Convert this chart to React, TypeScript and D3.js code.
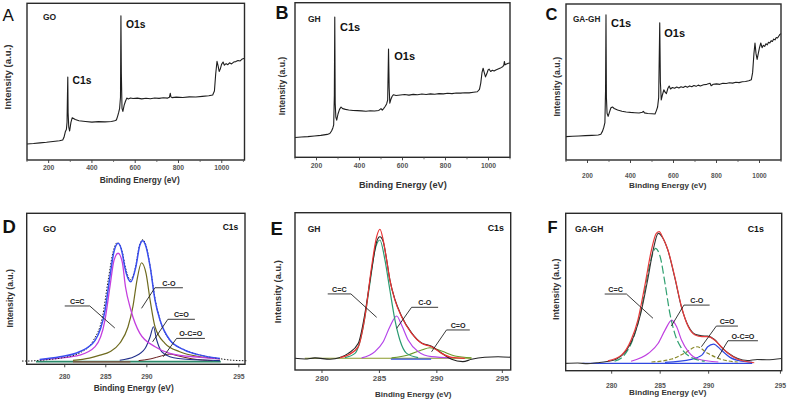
import React from 'react';
import * as d3 from 'd3';

type Pt = [number, number];

// ---------- tick labels ----------
const surveyTicks = [200, 400, 600, 800, 1000];
const surveyMinor = [100, 300, 500, 700, 900, 1100];
const surveyTickLabels = ['200', '400', '600', '800', '1000'];
const c1sTickLabels = ['280', '285', '290', '295'];
const goC1sTickAt = [280, 285, 290, 301.2];
const ghC1sTickAt = [280, 285, 290, 295.7];
const gaghC1sTickAt = [280, 285, 290, 297.4];

// ---------- survey spectra (binding energy eV, intensity a.u.) ----------
const goSurvey: Pt[] = [
  [100, 10.2], [130, 10.5], [160, 10.9], [190, 11.3], [220, 11.8], [250, 12.3], [265, 12.8], [271, 14.5],
  [277, 18], [282, 19.5], [285, 24], [287, 42], [288.5, 53], [290, 30], [293, 21], [297, 18.5], [303, 24],
  [309, 27], [315, 26.5], [323, 25.8], [340, 25], [370, 24.6], [400, 24.2], [430, 24.5], [460, 24.3],
  [490, 24.6], [505, 25], [513, 25.5], [519, 28], [524, 30.5], [528, 33], [532, 40], [534, 92], [536, 55],
  [539, 33], [543, 31], [549, 35], [555, 37.5], [561, 39.5], [568, 39], [578, 39.6], [590, 39.2], [610, 39.5],
  [630, 39], [650, 39.4], [670, 39.1], [690, 39.6], [710, 39.3], [730, 39.7], [750, 39.5], [758, 40],
  [762, 42.5], [765, 40.3], [770, 39.8], [790, 40.1], [820, 39.9], [850, 40.3], [880, 40.2], [910, 40.6],
  [940, 41], [958, 41.5], [966, 44], [972, 55], [978, 63], [983, 60], [988, 56.5], [993, 58], [999, 61],
  [1006, 62.5], [1012, 60.5], [1020, 61.5], [1028, 60.8], [1036, 62], [1045, 61.3], [1055, 62.5],
  [1065, 62.8], [1075, 63.5], [1085, 63.2], [1095, 64.5], [1105, 65],
];

const ghSurvey: Pt[] = [
  [100, 12.8], [130, 13.1], [160, 13.4], [190, 13.8], [220, 14.2], [250, 14.8], [262, 15.4], [270, 17],
  [276, 19], [280, 21], [283, 40], [285, 90.7], [287, 35], [290, 26], [294, 24], [300, 28], [307, 31],
  [314, 32.5], [322, 31.5], [335, 31], [350, 30.6], [370, 30.3], [390, 30.2], [410, 30], [430, 29.8],
  [450, 30.1], [470, 29.9], [490, 30.3], [500, 31.5], [506, 30.5], [512, 31.5], [520, 33], [526, 34.5],
  [531, 37], [535, 70], [538, 45], [541, 35], [546, 37.5], [552, 39.5], [558, 40.5], [570, 40], [590, 40.3],
  [610, 40.6], [630, 40.2], [650, 40.7], [670, 40.5], [690, 40.9], [710, 40.6], [730, 41], [750, 40.8],
  [770, 41.2], [790, 41], [810, 41.4], [830, 41.2], [850, 41.6], [870, 41.5], [890, 41.8], [910, 41.7],
  [930, 42.1], [948, 42.4], [958, 44], [964, 48], [970, 55], [975, 57.6], [980, 55], [986, 52], [992, 54],
  [998, 56.5], [1003, 57], [1010, 55.5], [1018, 56.3], [1026, 55.8], [1034, 56.5], [1042, 57], [1050, 57.5],
  [1058, 58], [1066, 58.6], [1071, 59.5], [1074, 62], [1077, 59.8], [1084, 60.3], [1092, 60.8], [1100, 61],
];

const gaghSurvey: Pt[] = [
  [100, 15], [130, 15.2], [160, 15.4], [190, 15.6], [220, 15.8], [250, 16], [262, 16.5], [270, 18.5],
  [276, 21], [281, 24], [284, 45], [286, 93], [288, 40], [291, 30], [296, 28], [303, 31], [309, 33.5],
  [316, 34], [324, 33], [340, 32], [360, 31.2], [380, 30.8], [400, 30.5], [420, 30.3], [440, 30.1],
  [455, 30.6], [460, 31.2], [465, 30.2], [480, 29.8], [500, 29.6], [514, 29.5], [520, 31.5], [526, 34],
  [531, 40], [536, 88], [539, 50], [543, 38.5], [549, 42], [555, 45], [561, 43.5], [567, 42.5], [574, 46],
  [580, 47.4], [586, 45.5], [595, 46.5], [605, 46], [615, 46.8], [625, 46.2], [635, 47], [645, 46.5],
  [655, 47.3], [665, 46.6], [675, 47.5], [685, 47], [695, 47.8], [705, 47.2], [715, 48], [725, 47.5],
  [740, 48.2], [755, 48.5], [770, 49.2], [775, 47.6], [785, 48.6], [800, 48.8], [815, 48.5], [830, 49.2],
  [845, 49], [860, 49.5], [875, 49.3], [890, 49.8], [905, 49.6], [920, 50.2], [935, 50.3], [950, 50.8],
  [962, 51.5], [968, 56], [974, 68], [979, 75], [984, 68], [989, 64.5], [994, 68], [1000, 72], [1006, 75],
  [1012, 72], [1018, 73.5], [1024, 72.8], [1030, 74.5], [1036, 73.8], [1042, 75.5], [1048, 75],
  [1054, 76.5], [1060, 76], [1066, 77.5], [1072, 77], [1078, 78.5], [1084, 78.2], [1090, 79.5],
  [1095, 80.5], [1100, 81],
];

// ---------- C1s GO ----------
const goData: Pt[] = [
  [274.8, 0], [275.7, 0], [276.5, 0.3], [278, 1], [280, 2.5], [282, 6], [283.5, 14], [284.6, 30], [285.3, 55],
  [285.9, 74], [286.4, 80], [287, 74], [287.4, 63], [288, 55], [288.6, 63], [289.1, 78], [289.5, 82],
  [289.9, 78], [290.4, 64], [291, 42], [291.6, 28], [292.8, 14], [294.6, 7.5], [296.5, 4], [299, 1.5],
  [300.5, 0.5], [302.2, 0.2],
];
const goEnvelope: Pt[] = [
  [276.95, 1.1], [279.4, 2.9], [281.8, 6.3], [283.7, 14], [284.9, 34], [285.5, 57], [286.0, 74],
  [286.5, 79.5], [287.0, 73], [287.3, 63.7], [288.05, 53.6], [288.66, 63.7], [289.15, 78.4], [289.5, 81.3],
  [289.9, 77.2], [290.4, 63.7], [291.0, 41], [291.6, 27.7], [292.8, 14.2], [294.6, 7.4], [296.5, 4],
  [298.9, 1.8],
];
const goCC: Pt[] = [
  [276.95, 0.8], [279.4, 2], [281.8, 4], [283.7, 9.7], [284.9, 27.7], [285.5, 50], [286.0, 68], [286.5, 72.8],
  [287.0, 67], [287.4, 50], [288.05, 34.5], [289.15, 18.7], [291, 9.7], [292.8, 5.2], [296.5, 2.5], [298.9, 1.5],
];
const goCO: Pt[] = [
  [281, 0.5], [283, 2], [284.3, 4], [285.5, 6.3], [286.7, 12], [287.7, 23], [288.3, 36.7], [288.8, 54.7],
  [289.35, 66.4], [289.9, 59.2], [290.4, 41], [291.0, 23], [292.2, 12], [294, 6.3], [296.5, 2.9], [298.9, 1.5],
];
const goCdO: Pt[] = [
  [286.7, 0.5], [288.5, 3], [289.8, 8.6], [290.4, 16.4], [290.8, 23.2], [291.2, 14.2], [291.8, 6.3],
  [292.8, 2.9], [295.2, 1], [298.9, 0.3],
];
const goOCO: Pt[] = [
  [289, 0.3], [290.5, 1.5], [291.8, 3.5], [292.8, 4.7], [293.8, 3.5], [295.5, 1.5], [298, 0.3],
];
const goBase: Pt[] = [[276.5, -0.4], [299, -0.4]];
const goBase2: Pt[] = [[281, -0.6], [288, -0.6]];

// ---------- C1s GH ----------
const ghData: Pt[] = [
  [277.65, 0], [278.52, -0.5], [279.39, 0.3], [280.7, -0.7], [281.57, 0.5], [282.29, 3.4], [283.16, 10.3],
  [283.74, 31], [284.32, 60.8], [284.76, 80.3], [285.04, 83.7], [285.33, 80.3], [285.63, 67.7], [285.91, 54],
  [286.35, 40.5], [286.93, 29], [287.8, 17.5], [288.67, 10.5], [289.54, 8.3], [290.41, 3.6], [291.28, -0.7],
  [292.26, -2.3], [293.02, -0.7], [294.17, 0.7], [295.33, 1.1], [296.43, 0.7],
];
const ghEnvelope: Pt[] = [
  [281.57, 0.5], [282.29, 2.3], [283.16, 8], [283.74, 28.6], [284.32, 63], [284.76, 83.7], [285.04, 88.8],
  [285.33, 81.4], [285.63, 67.7], [285.91, 53.9], [286.35, 40], [286.93, 28.6], [287.8, 17.2], [288.67, 10.3],
  [289.54, 8], [290.41, 3.4], [291.28, 0.7], [292.43, 0],
];
const ghCC: Pt[] = [
  [282, 0.5], [282.87, 3.4], [283.59, 21.7], [284.17, 51.6], [284.61, 74.5], [285.04, 81.4], [285.48, 67.7],
  [285.91, 47], [286.35, 26.4], [286.78, 12.6], [287.37, 3.4], [288.37, 0.5],
];
const ghCO: Pt[] = [
  [283.45, 0.3], [284.61, 4.6], [285.33, 11.4], [285.91, 21.7], [286.5, 29.1], [286.93, 22.9], [287.5, 12.6],
  [288.37, 4.6], [289.54, 1.1], [291.28, 0.3],
];
const ghCdO: Pt[] = [
  [286.06, 0.3], [287.5, 2.3], [288.67, 5.7], [289.39, 7.3], [290.41, 5], [291.57, 1.6], [293.02, 0.3],
];
const ghBase: Pt[] = [[278.5, 0], [293, 0]];
const ghBase2: Pt[] = [[286, -0.6], [289.5, -0.6]];

// ---------- C1s GA-GH ----------
const gaghData: Pt[] = [
  [275.26, -0.4], [276.5, -0.2], [277.5, -0.6], [278.5, 0], [279.5, 0.8], [280.5, 2.5], [281.5, 8],
  [282.3, 18], [283, 33], [283.7, 55], [284.3, 76], [284.8, 86.4], [285.3, 83], [285.8, 75], [286.5, 57],
  [287.2, 37], [287.9, 24.5], [288.6, 19], [289.3, 18], [289.9, 17.8], [290.6, 15.5], [291.3, 10.5],
  [292, 6.5], [293, 2.8], [294, 1.5], [295, 2.2], [296, 2], [297.53, 2.9],
];
const gaghEnvelope: Pt[] = [
  [279.6, 1.3], [281, 5.1], [282, 15.2], [282.7, 28.5], [283.4, 50.8], [284.1, 75.3], [284.6, 86.4],
  [284.9, 87.5], [285.3, 83.1], [285.8, 75.3], [286.5, 57.5], [287.2, 37.4], [287.9, 24], [288.6, 18.5],
  [289.3, 17.4], [289.9, 17.4], [290.6, 15.2], [291.3, 10.7], [292, 6.3], [293, 2.3], [294.7, 0],
];
const gaghCC: Pt[] = [
  [280.3, 1], [281.3, 5.1], [282.4, 19.6], [283.1, 37.4], [283.8, 61.9], [284.3, 74.1], [284.5, 76.4],
  [285, 70.8], [285.5, 53], [286, 33], [286.5, 19.6], [287.2, 9.6], [288.2, 3.6], [289.6, 1],
];
const gaghCO: Pt[] = [
  [282, 1], [283.8, 6.3], [284.8, 13], [285.5, 21.8], [286.2, 28.5], [286.7, 24], [287.2, 15.2],
  [287.9, 7.4], [288.9, 2.5], [291, 0.5],
];
const gaghCdO: Pt[] = [
  [284.1, 0.5], [286.2, 2.5], [287.5, 6.3], [288.8, 10.7], [289.9, 6.3], [291.3, 2.3], [293, 0.5],
];
const gaghOCO: Pt[] = [
  [285.5, 0.3], [288.2, 2.3], [289.3, 5.1], [289.9, 10.7], [290.5, 12.5], [291.3, 8.5], [292.2, 3.6],
  [293.4, 1], [294.5, 0.3],
];
const gaghBase: Pt[] = [[277, -0.4], [294.5, -0.4]];

// ---------- annotation labels (data coords) ----------
type Annot = { label: string; x1: number; x2: number; y: number; px: number; py: number; right: boolean };
const goAnnots: Annot[] = [
  { label: 'C=C', x1: 280.0, x2: 283.05, y: 37.2, px: 286.1, py: 22.3, right: true },
  { label: 'C-O', x1: 290.98, x2: 294.39, y: 49.5, px: 289.35, py: 35.6, right: false },
  { label: 'C=O', x1: 292.56, x2: 295.85, y: 28.2, px: 290.7, py: 13, right: false },
  { label: 'O-C=O', x1: 293.62, x2: 297.07, y: 15.3, px: 292, py: 2.9, right: false },
];
const ghAnnots: Annot[] = [
  { label: 'C=C', x1: 280.5, x2: 282.52, y: 44.3, px: 284.76, py: 28.2, right: true },
  { label: 'C-O', x1: 287.8, x2: 290.11, y: 35.1, px: 286.5, py: 20.6, right: false },
  { label: 'C=O', x1: 290.84, x2: 292.87, y: 19.5, px: 289.54, py: 4.5, right: false },
];
const gaghAnnots: Annot[] = [
  { label: 'C=C', x1: 279.28, x2: 281.52, y: 45.9, px: 284.26, py: 29.7, right: true },
  { label: 'C-O', x1: 287.45, x2: 290.1, y: 38.5, px: 286.15, py: 24.5, right: false },
  { label: 'C=O', x1: 290.79, x2: 293.02, y: 24.5, px: 289.25, py: 10.7, right: false },
  { label: 'O-C=O', x1: 291.99, x2: 295.08, y: 14.7, px: 290.9, py: 2.9, right: false },
];

type CurveSpec = { data: Pt[]; color: string; width: number; dash?: string; smooth: boolean };
type TextSpec = { text: string; x: number; y: number; size: number };
type PanelSpec = {
  letter: TextSpec & { weight: number };
  box: [number, number, number, number];
  xDomain: [number, number];
  yDomain: [number, number];
  ticks: number[];
  minor: number[];
  tickLabels: string[];
  tickLabelY: number;
  tickSize: number;
  sample: TextSpec;
  peaks: TextSpec[];
  ylabel: TextSpec;
  xlabel: TextSpec;
  curves: CurveSpec[];
  annots: Annot[];
  annotSize: number;
};

const FONT = '"Liberation Sans", Arial, sans-serif';

function Panel({ p }: { p: PanelSpec }) {
  const [l, t, r, b] = p.box;
  const x = d3.scaleLinear().domain(p.xDomain).range([l, r]);
  const y = d3.scaleLinear().domain(p.yDomain).range([b, t]);
  const mk = (smooth: boolean) =>
    d3.line<Pt>().x((d) => x(d[0])).y((d) => y(d[1])).curve(smooth ? d3.curveMonotoneX : d3.curveLinear);
  return (
    <g>
      {p.curves.map((c, i) => (
        <path key={i} d={mk(c.smooth)(c.data) || ''} fill="none" stroke={c.color} strokeWidth={c.width}
          strokeDasharray={c.dash} strokeLinejoin="round" />
      ))}
      <rect x={l} y={t} width={r - l} height={b - t} fill="none" stroke="#2a2a2a" strokeWidth={1.4} />
      {p.ticks.map((v, i) => (
        <g key={'t' + i}>
          {x(v) < r - 1 && <line x1={x(v)} x2={x(v)} y1={b} y2={b + 3} stroke="#333" strokeWidth={0.9} />}
          <text x={x(v)} y={p.tickLabelY} fontSize={p.tickSize} fontWeight="bold" fill="#555"
            textAnchor="middle" fontFamily={FONT}>{p.tickLabels[i]}</text>
        </g>
      ))}
      {p.minor.map((v, i) => (
        <line key={'m' + i} x1={x(v)} x2={x(v)} y1={b} y2={b + 2} stroke="#555" strokeWidth={0.8} />
      ))}
      {p.annots.map((a, i) => {
        const ax = a.right ? x(a.x2) : x(a.x1);
        return (
          <g key={'a' + i}>
            <line x1={x(a.x1)} x2={x(a.x2)} y1={y(a.y)} y2={y(a.y)} stroke="#222" strokeWidth={0.9} />
            <line x1={ax} x2={x(a.px)} y1={y(a.y)} y2={y(a.py)} stroke="#222" strokeWidth={0.9} />
            <text x={(x(a.x1) + x(a.x2)) / 2} y={y(a.y) - 2} fontSize={p.annotSize} fontWeight="bold"
              textAnchor="middle" fill="#222" fontFamily={FONT}>{a.label}</text>
          </g>
        );
      })}
      <text x={p.letter.x} y={p.letter.y} fontSize={p.letter.size} fontWeight={p.letter.weight}
        fill="#111" fontFamily={FONT}>{p.letter.text}</text>
      <text x={p.sample.x} y={p.sample.y} fontSize={p.sample.size} fontWeight="bold" fill="#222"
        fontFamily={FONT}>{p.sample.text}</text>
      {p.peaks.map((s, i) => (
        <text key={'p' + i} x={s.x} y={s.y} fontSize={s.size} fontWeight="bold" fill="#111"
          fontFamily={FONT}>{s.text}</text>
      ))}
      <text transform={`translate(${p.ylabel.x},${p.ylabel.y}) rotate(-90)`} fontSize={p.ylabel.size}
        fontWeight="bold" textAnchor="middle" fill="#333" fontFamily={FONT}>{p.ylabel.text}</text>
      <text x={p.xlabel.x} y={p.xlabel.y} fontSize={p.xlabel.size} fontWeight="bold" textAnchor="middle"
        fill="#333" fontFamily={FONT}>{p.xlabel.text}</text>
    </g>
  );
}

const YL = 'Intensity (a.u.)';
const XL = 'Binding Energy (eV)';
const surveyCurve = (d: Pt[]): CurveSpec[] => [{ data: d, color: '#1e1e1e', width: 1.1, smooth: false }];

const panels: PanelSpec[] = [
  {
    letter: { text: 'A', x: 2.5, y: 21, size: 17, weight: 400 },
    box: [27, 3.3, 244.5, 160], xDomain: [100, 1105], yDomain: [0, 100],
    ticks: surveyTicks, minor: surveyMinor, tickLabels: surveyTickLabels, tickLabelY: 169.5, tickSize: 6.8,
    sample: { text: 'GO', x: 43, y: 19.8, size: 8.5 },
    peaks: [{ text: 'C1s', x: 72.5, y: 83.5, size: 10.3 }, { text: 'O1s', x: 126, y: 28.3, size: 10.3 }],
    ylabel: { text: YL, x: 11, y: 77, size: 9.6 }, xlabel: { text: XL, x: 139.7, y: 183, size: 8.4 },
    curves: surveyCurve(goSurvey), annots: [], annotSize: 7,
  },
  {
    letter: { text: 'B', x: 275.5, y: 18.5, size: 18, weight: 700 },
    box: [295, 2.7, 510, 157.3], xDomain: [100, 1100], yDomain: [0, 100],
    ticks: surveyTicks, minor: surveyMinor, tickLabels: surveyTickLabels, tickLabelY: 167.5, tickSize: 6.8,
    sample: { text: 'GH', x: 308, y: 21.5, size: 8.5 },
    peaks: [{ text: 'C1s', x: 340, y: 30.7, size: 11 }, { text: 'O1s', x: 394.3, y: 60, size: 11 }],
    ylabel: { text: YL, x: 285, y: 86, size: 8.6 }, xlabel: { text: XL, x: 402.8, y: 188.3, size: 9.2 },
    curves: surveyCurve(ghSurvey), annots: [], annotSize: 7,
  },
  {
    letter: { text: 'C', x: 545.5, y: 20, size: 16.5, weight: 700 },
    box: [566, 4, 781, 160], xDomain: [100, 1100], yDomain: [0, 100],
    ticks: surveyTicks, minor: surveyMinor, tickLabels: surveyTickLabels, tickLabelY: 177.5, tickSize: 6.5,
    sample: { text: 'GA-GH', x: 573, y: 21.5, size: 8.2 },
    peaks: [{ text: 'C1s', x: 611, y: 27.3, size: 11 }, { text: 'O1s', x: 664.3, y: 37.3, size: 11 }],
    ylabel: { text: YL, x: 559.5, y: 86.7, size: 8.8 }, xlabel: { text: XL, x: 667.8, y: 187.5, size: 8.1 },
    curves: surveyCurve(gaghSurvey), annots: [], annotSize: 7,
  },
  {
    letter: { text: 'D', x: 2.5, y: 233.3, size: 18.5, weight: 700 },
    box: [26.7, 213.3, 245, 364.3], xDomain: [275.37, 301.95], yDomain: [-2.2, 99.8],
    ticks: goC1sTickAt, minor: [], tickLabels: c1sTickLabels, tickLabelY: 378.5, tickSize: 6.8,
    sample: { text: 'GO', x: 43, y: 231.5, size: 8.5 },
    peaks: [{ text: 'C1s', x: 222.7, y: 230, size: 8.5 }],
    ylabel: { text: YL, x: 12.5, y: 298.3, size: 8.6 }, xlabel: { text: XL, x: 133.7, y: 391, size: 8.4 },
    curves: [
      { data: goBase, color: '#2a8a6a', width: 1.6, smooth: false },
      { data: goBase2, color: '#a03a2a', width: 1, smooth: false },
      { data: goOCO, color: '#6a1e1e', width: 1, smooth: true },
      { data: goCdO, color: '#22308c', width: 1.1, smooth: true },
      { data: goCO, color: '#6e6a1e', width: 1.2, smooth: true },
      { data: goCC, color: '#c43ede', width: 1.3, smooth: true },
      { data: goData, color: '#222', width: 1, dash: '1.5,1.5', smooth: true },
      { data: goEnvelope, color: '#3a4ef0', width: 1.5, smooth: true },
    ],
    annots: goAnnots, annotSize: 7.2,
  },
  {
    letter: { text: 'E', x: 270.5, y: 235, size: 18.5, weight: 700 },
    box: [295, 212.7, 510.7, 370], xDomain: [277.65, 296.43], yDomain: [-8.05, 100.2],
    ticks: ghC1sTickAt, minor: [], tickLabels: c1sTickLabels, tickLabelY: 380.5, tickSize: 8,
    sample: { text: 'GH', x: 307.7, y: 231.7, size: 8.5 },
    peaks: [{ text: 'C1s', x: 487.7, y: 230.7, size: 8.8 }],
    ylabel: { text: YL, x: 280.5, y: 291.7, size: 9.3 }, xlabel: { text: XL, x: 413.3, y: 396.5, size: 8 },
    curves: [
      { data: ghBase, color: '#8a9a2a', width: 1.1, smooth: false },
      { data: ghBase2, color: '#3050e0', width: 1.2, smooth: false },
      { data: ghCdO, color: '#6a9a28', width: 1.1, smooth: true },
      { data: ghCO, color: '#b444ea', width: 1.2, smooth: true },
      { data: ghCC, color: '#2a9a72', width: 1.2, smooth: true },
      { data: ghData, color: '#222', width: 1.1, smooth: true },
      { data: ghEnvelope, color: '#e83232', width: 1.2, smooth: true },
    ],
    annots: ghAnnots, annotSize: 7.2,
  },
  {
    letter: { text: 'F', x: 547.5, y: 233.3, size: 16.5, weight: 700 },
    box: [565.7, 213.3, 781.7, 370.7], xDomain: [275.26, 297.53], yDomain: [-5.3, 99.8],
    ticks: gaghC1sTickAt, minor: [], tickLabels: c1sTickLabels, tickLabelY: 387.5, tickSize: 6.8,
    sample: { text: 'GA-GH', x: 575, y: 231.7, size: 8.5 },
    peaks: [{ text: 'C1s', x: 747.7, y: 231.7, size: 8.8 }],
    ylabel: { text: YL, x: 558.5, y: 289.2, size: 9.1 }, xlabel: { text: XL, x: 667.8, y: 395, size: 8.1 },
    curves: [
      { data: gaghBase, color: '#3048e0', width: 1.1, smooth: false },
      { data: gaghOCO, color: '#3048e0', width: 1.2, smooth: true },
      { data: gaghCdO, color: '#8a8a2a', width: 1.2, dash: '4,2', smooth: true },
      { data: gaghCO, color: '#c040e0', width: 1.2, smooth: true },
      { data: gaghCC, color: '#30a070', width: 1.2, dash: '8,3', smooth: true },
      { data: gaghData, color: '#333', width: 1.1, smooth: true },
      { data: gaghEnvelope, color: '#e83a3a', width: 1.2, smooth: true },
    ],
    annots: gaghAnnots, annotSize: 7.2,
  },
];

export default function App() {
  return (
    <svg width={790} height={404} viewBox="0 0 790 404"
      style={{ position: 'absolute', left: 0, top: 0, background: '#fff', display: 'block' }}>
      <rect x={0} y={0} width={790} height={404} fill="#fff" />
      {panels.map((p, i) => <Panel key={i} p={p} />)}
    </svg>
  );
}
